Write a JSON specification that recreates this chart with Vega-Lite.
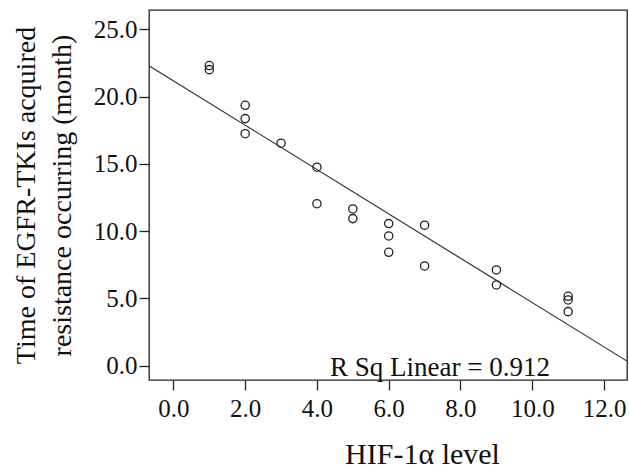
{
  "$schema": "https://vega.github.io/schema/vega-lite/v6.json",
  "autosize": "none",
  "width": 478,
  "height": 370,
  "padding": {"left": 149, "top": 10, "right": 2, "bottom": 90},
  "background": "white",
  "config": {
    "view": {"stroke": "#222", "strokeWidth": 1.3},
    "font": "Liberation Serif",
    "axis": {
      "grid": false,
      "domain": false,
      "tickColor": "#222",
      "tickWidth": 1.3,
      "tickSize": 10,
      "labelFont": "Liberation Serif",
      "labelFontSize": 25,
      "labelColor": "#111",
      "titleFont": "Liberation Serif",
      "titleFontSize": 28,
      "titleFontWeight": "normal",
      "titleColor": "#111"
    }
  },
  "data": {
    "values": [
      {"hif": 1, "time": 22.3},
      {"hif": 1, "time": 22.0},
      {"hif": 2, "time": 19.35},
      {"hif": 2, "time": 18.36},
      {"hif": 2, "time": 17.24},
      {"hif": 3, "time": 16.53},
      {"hif": 4, "time": 14.75},
      {"hif": 4, "time": 12.04},
      {"hif": 5, "time": 11.65},
      {"hif": 5, "time": 10.93},
      {"hif": 6, "time": 10.56},
      {"hif": 6, "time": 9.64},
      {"hif": 6, "time": 8.43},
      {"hif": 7, "time": 10.44},
      {"hif": 7, "time": 7.41},
      {"hif": 9, "time": 7.12},
      {"hif": 9, "time": 6.0},
      {"hif": 11, "time": 5.16},
      {"hif": 11, "time": 4.89},
      {"hif": 11, "time": 4.02}
    ]
  },
  "encoding": {
    "x": {
      "field": "hif",
      "type": "quantitative",
      "scale": {"domain": [-0.68, 12.64], "nice": false, "zero": false},
      "axis": {
        "values": [0, 2, 4, 6, 8, 10, 12],
        "format": ".1f",
        "labelPadding": 6,
        "title": "HIF-1α level",
        "titleFontSize": 30,
        "titleX": 273,
        "titleY": 83,
        "titleBaseline": "alphabetic",
        "titleAlign": "center"
      }
    },
    "y": {
      "field": "time",
      "type": "quantitative",
      "scale": {"domain": [-1.06, 26.43], "nice": false, "zero": false},
      "axis": {
        "values": [0, 5, 10, 15, 20, 25],
        "format": ".1f",
        "labelPadding": 2,
        "title": ["Time of EGFR-TKIs acquired", "resistance occurring (month)"],
        "titleAngle": 270,
        "titleX": -115,
        "titleY": 185,
        "titleAlign": "center",
        "titleBaseline": "alphabetic",
        "titleLineHeight": 36
      }
    }
  },
  "layer": [
    {
      "mark": {"type": "point", "shape": "circle", "filled": false, "size": 68, "stroke": "#222", "strokeWidth": 1.3, "opacity": 1}
    },
    {
      "transform": [{"regression": "time", "on": "hif", "extent": [-0.68, 12.64]}],
      "mark": {"type": "line", "color": "#333", "strokeWidth": 1.2, "clip": true}
    },
    {
      "transform": [{"filter": "datum.hif == 3"}],
      "mark": {"type": "text", "font": "Liberation Serif", "fontSize": 27, "color": "#111", "align": "center", "baseline": "alphabetic"},
      "encoding": {
        "x": {"datum": 7.43, "type": "quantitative"},
        "y": {"datum": -0.77, "type": "quantitative"},
        "text": {"value": "R Sq Linear = 0.912"}
      }
    }
  ]
}
